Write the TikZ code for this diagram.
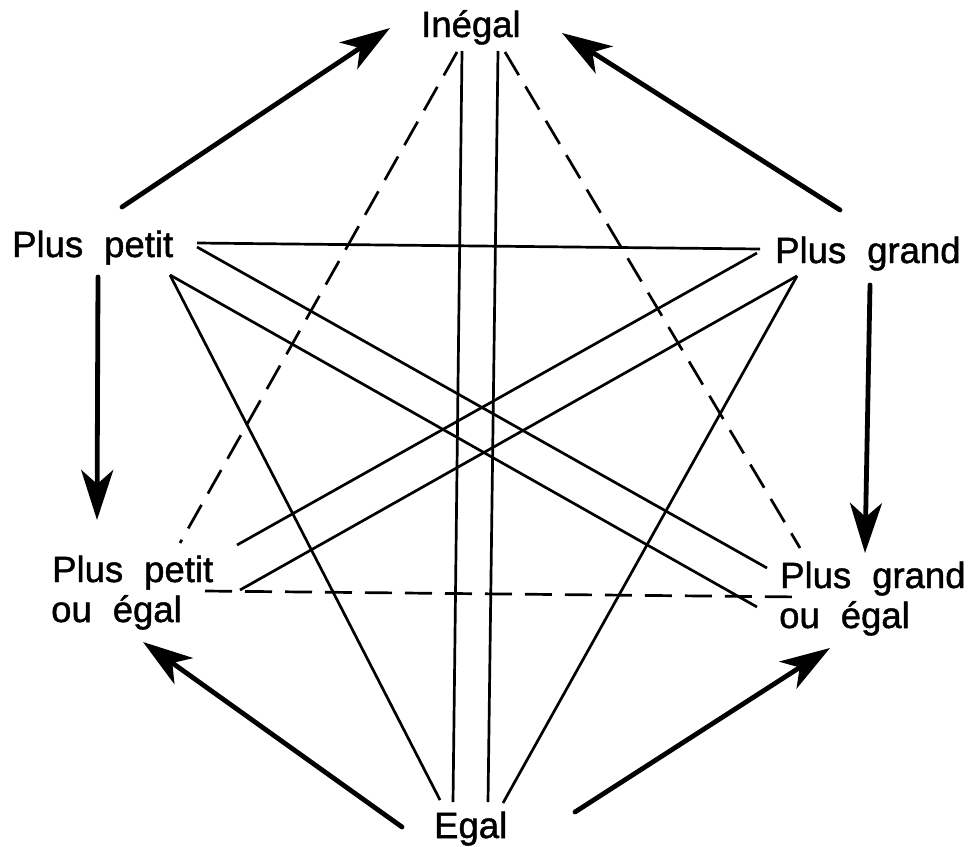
\documentclass[tikz,border=0pt]{standalone}
\usepackage{fontspec}
\setmainfont{Liberation Sans}
\newfontfamily\lblfont{Liberation Sans}[FakeBold=1.3]
\usetikzlibrary{arrows.meta}
\newcommand{\wsp}{\hspace{21pt}}
\begin{document}
\begin{tikzpicture}[x=1pt,y=-1pt,
  lbl/.style={anchor=base west, inner sep=0pt, font=\lblfont\fontsize{36.5}{42}\selectfont},
  link/.style={line width=2.7pt},
  dlink/.style={line width=2.7pt, dash pattern=on 27pt off 13pt},
  arr/.style={line width=4.8pt, line cap=round, -{Stealth[length=50pt,width=32pt,inset=14pt]}}]
\useasboundingbox (0,0) rectangle (973,846);
% labels
\node[lbl] (ine) at (421,37) {Inégal};
\node[lbl] (pp) at (12,257) {Plus\wsp petit};
\node[lbl] (pg) at (775,263) {Plus\wsp grand};
\node[lbl] (ppe) at (52,582) {Plus\wsp petit};
\node[lbl] (ppe2) at (51,622) {ou\wsp égal};
\node[lbl] (pge) at (780,588) {Plus\wsp grand};
\node[lbl] (pge2) at (779,628) {ou\wsp égal};
\node[lbl] (eg) at (434,838) {Egal};
% connector ends
\coordinate (ineA) at (457,52);
\coordinate (ineB) at (462,51);
\coordinate (ineC) at (498,51);
\coordinate (ineD) at (505,52);
\coordinate (ineL) at (390,28);
\coordinate (ineR) at (562,33);
\coordinate (ppA) at (197,243);
\coordinate (ppB) at (197,247);
\coordinate (ppC) at (170,275);
\coordinate (ppUp) at (122,207);
\coordinate (ppDn) at (98,277);
\coordinate (pgA) at (760,249);
\coordinate (pgB) at (757,253);
\coordinate (pgC) at (797,276);
\coordinate (pgUp) at (840,210);
\coordinate (pgDn) at (870,285);
\coordinate (ppeA) at (180,543);
\coordinate (ppeB) at (237,545);
\coordinate (ppeC) at (240,590);
\coordinate (ppeD) at (205,591);
\coordinate (ppeT) at (97,520);
\coordinate (ppeT2) at (143,642);
\coordinate (pgeA) at (800,548);
\coordinate (pgeB) at (767,568);
\coordinate (pgeC) at (757,607);
\coordinate (pgeD) at (803,597);
\coordinate (pgeT) at (865,553);
\coordinate (pgeT2) at (830,648);
\coordinate (egA) at (440,800);
\coordinate (egB) at (453,802);
\coordinate (egC) at (488,802);
\coordinate (egD) at (503,803);
\coordinate (egL) at (402,827);
\coordinate (egR) at (575,812);
% thin lines
\draw[dlink] (ineA) -- (ppeA);
\draw[link] (ineB) -- (egB);
\draw[link] (ineC) -- (egC);
\draw[dlink] (ineD) -- (pgeA);
\draw[link] (ppA) -- (pgA);
\draw[link] (ppB) -- (pgeB);
\draw[link] (ppC) -- (pgeC);
\draw[link] (ppC) -- (egA);
\draw[link] (pgB) -- (ppeB);
\draw[link] (pgC) -- (ppeC);
\draw[link] (pgC) -- (egD);
\draw[dlink] (ppeD) -- (pgeD);
% thick arrows
\draw[arr] (ppUp) -- (ineL);
\draw[arr] (pgUp) -- (ineR);
\draw[arr] (ppDn) -- (ppeT);
\draw[arr] (pgDn) -- (pgeT);
\draw[arr] (egL) -- (ppeT2);
\draw[arr] (egR) -- (pgeT2);
\end{tikzpicture}
\end{document}
